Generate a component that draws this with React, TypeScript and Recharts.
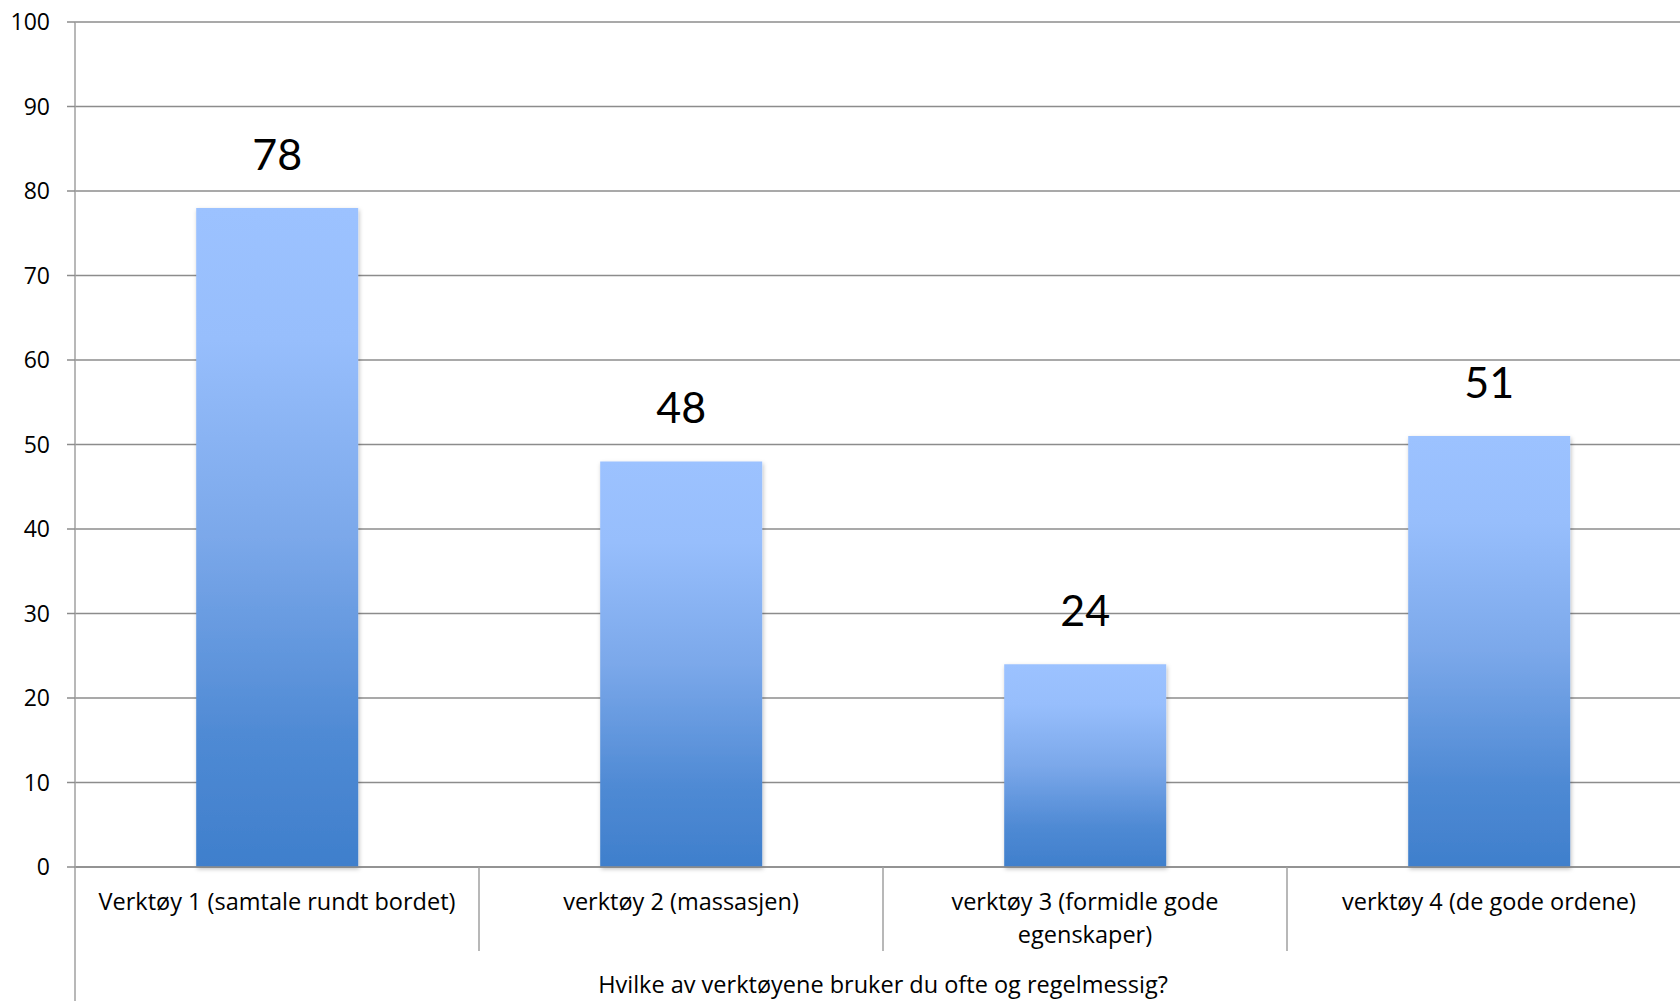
import React from 'react';
import { BarChart, Bar, XAxis, YAxis, CartesianGrid, LabelList } from 'recharts';

const categories = [
  'Verktøy 1 (samtale rundt bordet)',
  'verktøy 2 (massasjen)',
  'verktøy 3 (formidle gode egenskaper)',
  'verktøy 4 (de gode ordene)',
];
const values = [78, 48, 24, 51];
const yTicks = [0, 10, 20, 30, 40, 50, 60, 70, 80, 90, 100];
const axisTitle = 'Hvilke av verktøyene bruker du ofte og regelmessig?';

const data = categories.map((name, i) => ({ name, value: values[i] }));

const FONT = '"Open Sans", Lato, sans-serif';
const LABEL_FONT = 'Lato, "Open Sans", sans-serif';
const FS = 23.5;
const GRID = '#8c8c8c';
const AXIS = '#a0a0a0';

let measureCtx: CanvasRenderingContext2D | null = null;
function measure(s: string): number {
  if (!measureCtx) {
    const c = document.createElement('canvas');
    measureCtx = c.getContext('2d');
  }
  if (!measureCtx) return s.length * FS * 0.55;
  measureCtx.font = `${FS}px "Open Sans", Lato, sans-serif`;
  return measureCtx.measureText(s).width;
}

function wrap(s: string, maxW: number): string[] {
  const words = s.split(' ');
  const lines: string[] = [];
  let cur = '';
  words.forEach((w) => {
    const t = cur ? cur + ' ' + w : w;
    if (cur && measure(t) > maxW) {
      lines.push(cur);
      cur = w;
    } else {
      cur = t;
    }
  });
  if (cur) lines.push(cur);
  return lines;
}

const CategoryTick = (props: any) => {
  const { x, y, payload } = props;
  const half = payload && payload.offset ? payload.offset : 0;
  const lines = wrap(String(payload.value), 385);
  return (
    <g>
      <line x1={x + half} x2={x + half} y1={y} y2={y + 84} stroke={AXIS} strokeWidth={1.5} />
      <text x={x} textAnchor="middle" fill="#000" style={{ fontSize: FS, fontFamily: FONT }}>
        {lines.map((l, i) => (
          <tspan key={i} x={x} y={y + 43 + i * 33}>
            {l}
          </tspan>
        ))}
      </text>
    </g>
  );
};

const AxisTitle = (props: any) => {
  const vb = props.viewBox || {};
  const { x = 0, y = 0, width = 0, height = 0 } = vb;
  return (
    <g>
      <line x1={x} x2={x} y1={y} y2={y + height} stroke={AXIS} strokeWidth={1.5} />
      <text
        x={x + width / 2}
        y={y + 126}
        textAnchor="middle"
        fill="#000"
        style={{ fontSize: FS, fontFamily: FONT }}
      >
        {axisTitle}
      </text>
    </g>
  );
};

export default function App() {
  return (
    <div
      style={{
        position: 'fixed',
        left: 0,
        top: 0,
        width: 1680,
        height: 1001,
        overflow: 'hidden',
        background: '#fff',
      }}
    >
      <BarChart
        width={1700}
        height={1001}
        data={data}
        margin={{ top: 22, right: 9, bottom: 0, left: 0 }}
        barCategoryGap="30%"
      >
        <defs>
          <linearGradient id="barGrad" x1="0" y1="0" x2="0" y2="1">
            <stop offset="0%" stopColor="#9cc2ff" />
            <stop offset="20%" stopColor="#97befc" />
            <stop offset="50%" stopColor="#7ba8ea" />
            <stop offset="80%" stopColor="#4f8ad4" />
            <stop offset="100%" stopColor="#3f7fcc" />
          </linearGradient>
          <filter id="barShadow" x="-10%" y="-10%" width="120%" height="120%">
            <feDropShadow dx="1" dy="2" stdDeviation="2" floodColor="#000" floodOpacity="0.25" />
          </filter>
        </defs>
        <CartesianGrid vertical={false} stroke={GRID} strokeWidth={1.5} />
        <XAxis
          dataKey="name"
          interval={0}
          height={134}
          tickLine={false}
          tickSize={0}
          tickMargin={0}
          axisLine={{ stroke: GRID, strokeWidth: 1.5 }}
          tick={<CategoryTick />}
          label={(p: any) => <AxisTitle {...p} />}
        />
        <YAxis
          width={75}
          domain={[0, 100]}
          ticks={yTicks}
          interval={0}
          tickSize={8}
          tickMargin={17}
          axisLine={{ stroke: AXIS, strokeWidth: 1.5 }}
          tickLine={{ stroke: GRID, strokeWidth: 1.5 }}
          tick={{ fill: '#000', fontSize: 23, fontFamily: FONT }}
        />
        <Bar
          dataKey="value"
          fill="url(#barGrad)"
          filter="url(#barShadow)"
          isAnimationActive={false}
        >
          <LabelList
            dataKey="value"
            position="top"
            offset={38}
            fill="#000"
            style={{ fontSize: 43, fontFamily: LABEL_FONT }}
          />
        </Bar>
      </BarChart>
    </div>
  );
}
